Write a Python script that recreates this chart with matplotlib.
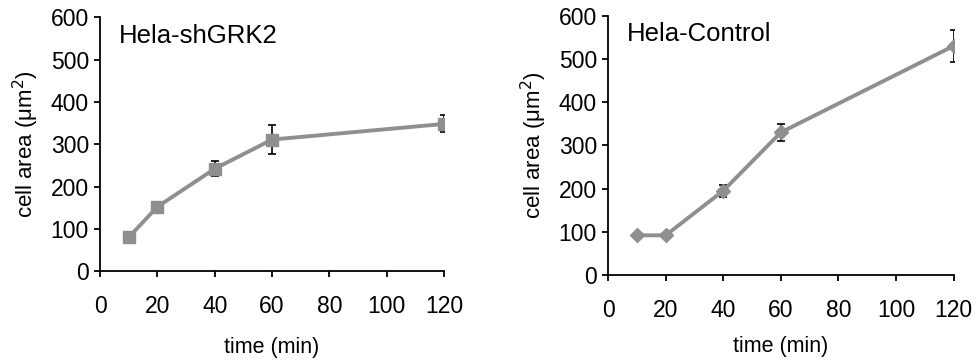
import matplotlib.pyplot as plt

plt.rcParams['font.family'] = ['Liberation Sans', 'DejaVu Sans']

time_min = [10, 20, 40, 60, 120]

# Hela-shGRK2
kd_area = [80, 152, 242, 311, 348]
kd_err = [0, 0, 18, 34, 20]

# Hela-Control
ctrl_area = [92, 92, 195, 330, 530]
ctrl_err = [0, 0, 14, 20, 37]

xticks = [0, 20, 40, 60, 80, 100, 120]
yticks = [0, 100, 200, 300, 400, 500, 600]

grey = '#8f8f8f'

fig = plt.figure(figsize=(9.76, 3.61), dpi=100)
ax1 = fig.add_axes([0.1025, 0.249, 0.3525, 0.703])
ax2 = fig.add_axes([0.623, 0.238, 0.354, 0.7185])

panels = [
    (ax1, kd_area, kd_err, 's', 9, 'Hela-shGRK2', 14),
    (ax2, ctrl_area, ctrl_err, 'D', 7, 'Hela-Control', 10),
]

for ax, area, err, mk, ms, title, xpad in panels:
    ax.errorbar(time_min, area, yerr=err, fmt='none', ecolor='black',
                elinewidth=1.2, capsize=3, capthick=1.2, zorder=1)
    ax.plot(time_min, area, color=grey, lw=2.8, marker=mk, ms=ms,
            mfc=grey, mec=grey, zorder=2)
    ax.set_xlim(0, 120)
    ax.set_ylim(0, 600)
    ax.set_xticks(xticks)
    ax.set_yticks(yticks)
    ax.spines['top'].set_visible(False)
    ax.spines['right'].set_visible(False)
    for s in ['left', 'bottom']:
        ax.spines[s].set_linewidth(1.3)
    ax.tick_params(direction='out', length=4, width=1.3, labelsize=16.5)
    ax.tick_params(axis='x', pad=13)
    ax.tick_params(axis='y', pad=4)
    ax.set_xlabel('time (min)', fontsize=15.5, labelpad=xpad)
    ax.set_ylabel('cell area (\u03bcm$^2$)', fontsize=16, labelpad=7)
    ax.text(0.055, 0.975, title, transform=ax.transAxes, fontsize=18.5,
            va='top', ha='left')

fig.savefig('out.png', dpi=100)
